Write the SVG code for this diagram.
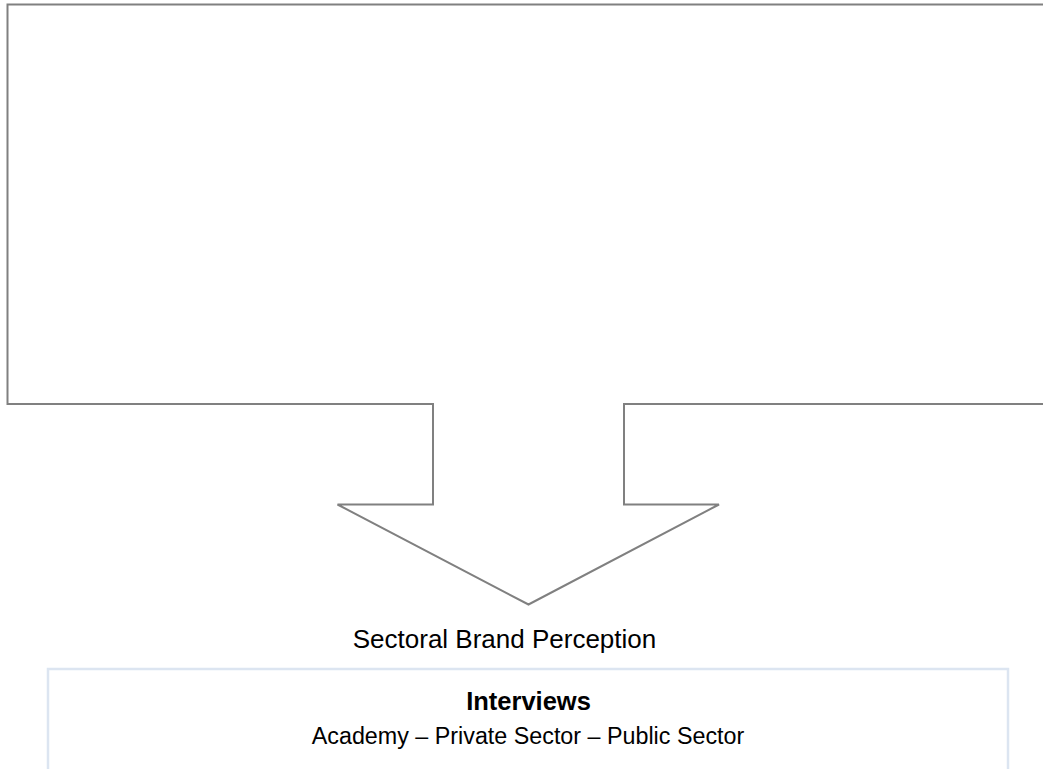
<svg xmlns="http://www.w3.org/2000/svg" width="1043" height="769" viewBox="0 0 1043 769">
  <style>
    .callout { fill: #ffffff; stroke: #808080; stroke-width: 2; stroke-linejoin: miter; }
    .box { fill: #ffffff; stroke: #dce5f1; stroke-width: 2.5; }
    .lbl { font-family: "Liberation Sans", Arial, sans-serif; fill: #000000; text-anchor: middle; }
  </style>
  <rect width="1043" height="769" fill="#ffffff"/>
  <g id="callout-arrow">
    <path class="callout" d="M1052,404 L624,404 L624,504.5 L719,504.5 L528.5,604.5 L337.5,504.5 L433,504.5 L433,404 L7.5,404 L7.5,4.5 L1052,4.5 Z"/>
  </g>
  <g id="sectoral-label">
    <text class="lbl" x="504.5" y="647.5" font-size="26">Sectoral Brand Perception</text>
  </g>
  <g id="interviews-box">
    <rect class="box" x="48" y="669" width="960" height="120"/>
    <text class="lbl" x="528.5" y="709.5" font-size="25.5" font-weight="bold">Interviews</text>
    <text class="lbl" x="528" y="743.5" font-size="23.3">Academy – Private Sector – Public Sector</text>
  </g>
  <g id="connectors"></g>
</svg>
